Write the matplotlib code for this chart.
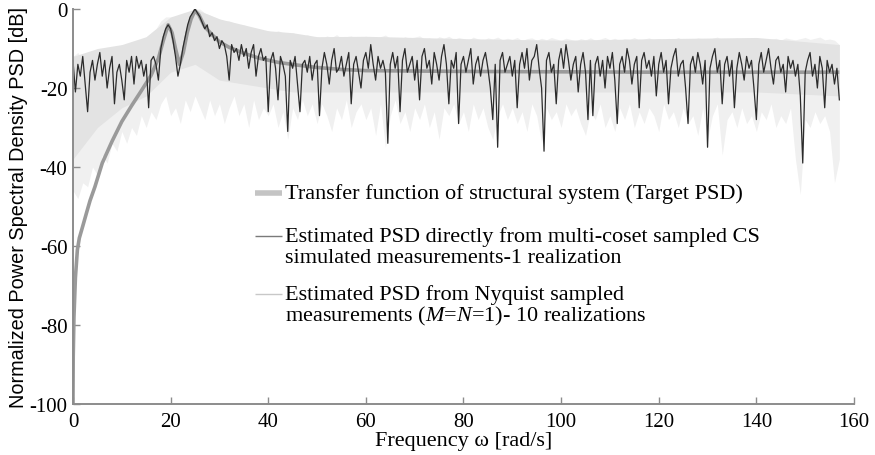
import numpy as np
import matplotlib
matplotlib.use("Agg")
import matplotlib.pyplot as plt

plt.rcParams['font.family'] = ['Liberation Serif', 'DejaVu Serif']
plt.rcParams['axes.unicode_minus'] = False
plt.rcParams['mathtext.fontset'] = 'custom'
plt.rcParams['mathtext.rm'] = 'Liberation Serif'
plt.rcParams['mathtext.it'] = 'Liberation Serif:italic'

# target PSD (transfer function of the structure)
target_freq = [0, 0.05, 0.2, 0.5, 0.9, 1.3, 2.0, 2.8, 3.5, 4.5, 6, 8, 10, 12, 14, 16,
               17.5, 18.5, 19.5, 20.3, 21, 21.8, 22.6, 23.4, 24.2, 25, 25.8, 27,
               28.5, 30, 32, 35, 38, 42, 46, 50, 55, 60, 80, 100, 120, 140, 157]
target_db = [-100, -88, -78, -68, -61, -58, -55, -51.5, -48.5, -45, -39, -33.5, -28.5,
             -24.5, -20.7, -16.8, -12.5, -8, -4, -6, -10, -14, -11, -6, -2.5,
             -0.4, -1.5, -4.5, -6.5, -8.3, -9.7, -11.2, -12.4, -13.5, -14.2,
             -14.8, -15.3, -15.6, -15.8, -15.9, -16, -16, -16]

# CS estimate, one realization (0 .. 157 rad/s, every 0.5 rad/s)
cs_db = [
    -13, -21, -14, -17, -12, -19, -26, -16, -13, -18,
    -14, -11, -17, -13, -20, -15, -12, -24, -16, -14,
    -18, -23, -13, -16, -12, -19, -12, -15, -13, -17,
    -14, -25, -13, -12, -14, -18, -10, -7, -5, -4,
    -5, -8, -12, -17, -14, -10, -7, -4, -2, -1,
    0, -1, -2, -3.5, -5, -4, -7, -6, -8, -7,
    -10, -8, -9, -12, -18, -9, -11, -10, -13, -9,
    -12, -10, -15, -11, -9, -17, -12, -10, -13, -12,
    -26, -13, -11, -15, -23, -12, -14, -17, -31, -13,
    -15, -12, -19, -26, -14, -13, -16, -12, -18, -14,
    -13, -27, -15, -11, -14, -19, -13, -10, -16, -15,
    -12, -17, -14, -11, -24, -14, -12, -16, -20, -13,
    -11, -15, -9, -14, -18, -12, -15, -13, -16, -34,
    -14, -11, -15, -12, -26, -13, -10, -16, -14, -12,
    -18, -13, -23, -12, -10, -15, -13, -19, -11, -14,
    -18, -12, -9, -14, -24, -13, -15, -11, -29, -14,
    -12, -16, -13, -10, -19, -14, -12, -17, -13, -11,
    -15, -20, -28, -14, -35, -13, -11, -16, -14, -12,
    -17, -13, -25, -14, -11, -15, -10, -18, -13, -12,
    -9, -15, -20, -36, -13, -11, -16, -14, -24, -13,
    -10, -15, -9, -13, -18, -14, -12, -21, -14, -11,
    -16, -28, -13, -27, -14, -12, -17, -13, -20, -12,
    -15, -11, -18, -29, -14, -12, -16, -10, -13, -19,
    -14, -12, -25, -13, -11, -15, -13, -17, -12, -22,
    -14, -11, -16, -13, -24, -15, -12, -10, -17, -14,
    -13, -20, -29, -14, -12, -16, -11, -14, -19, -13,
    -35, -15, -12, -10, -16, -13, -24, -14, -12, -17,
    -13, -25, -15, -11, -14, -18, -12, -15, -13, -20,
    -28, -14, -11, -16, -13, -10, -15, -19, -13, -12,
    -16, -14, -21, -12, -15, -13, -17, -14, -22, -39,
    -16, -13, -11, -17, -14, -20, -12, -15, -25, -13,
    -16, -14, -19, -15, -23,
]
cs_freq = np.linspace(0, 157, len(cs_db))

# Nyquist estimates, 10 realizations: envelope (0 .. 157 rad/s, every 1 rad/s)
nyq_upper = [
    -12, -11, -13, -11, -12, -10, -11, -10, -11, -10,
    -9, -10, -9, -8, -9, -7, -6, -5, -3, -2,
    -2, -4, -5, -3, -1, 0, 0, -1, -1.5, -2,
    -2.5, -3, -3, -3.5, -4, -4, -4.5, -5, -5, -5.5,
    -5.5, -6, -5.5, -6, -6.5, -6, -6.5, -7, -6.5, -7,
    -7, -7.5, -6.8, -7.2, -6.5, -7.4, -7, -6.8, -7.6, -7.1,
    -6.9, -7.3, -7.8, -7, -6.6, -7.4, -7.2, -7.8, -7, -7.5,
    -7.1, -6.8, -7.6, -7.3, -7.9, -7, -7.4, -6.9, -7.7, -7.2,
    -7.5, -7.9, -7.1, -7.6, -8, -7.3, -7.6, -7.1, -7.8, -7.4,
    -7.7, -7.2, -8, -7.5, -7.3, -7.9, -7.4, -7.8, -7.2, -7.6,
    -7.9, -7.4, -7.7, -8.1, -7.5, -7.8, -7.3, -7.9, -7.6, -7.2,
    -7.8, -7.4, -8, -7.5, -7.7, -7.2, -7.9, -7.6, -7.3, -7.8,
    -7.5, -8, -7.4, -7.7, -7.2, -7.9, -7.5, -7.8, -7.3, -7.6,
    -7.9, -7.4, -7.1, -7.8, -7.5, -7.7, -7.3, -7.9, -7.4, -7.6,
    -7.2, -7.8, -7.5, -7.7, -7.4, -7.9, -7.3, -7.6, -7.8, -7.5,
    -7.2, -7.7, -7.4, -7.1, -7.8, -7.6, -7.9, -9,
]
nyq_lower = [
    -46, -48, -44, -45, -40, -42, -37, -39, -34, -36,
    -31, -34, -30, -32, -27, -30, -26, -28, -24, -22,
    -27, -25, -29, -23, -26, -22, -25, -28, -23, -27,
    -24, -29, -25, -22, -27, -24, -30, -23, -28, -25,
    -27, -24, -30, -26, -33, -25, -28, -23, -27, -24,
    -29, -24, -27, -31, -25, -28, -23, -30, -26, -24,
    -28, -25, -32, -24, -35, -27, -23, -29, -26, -31,
    -25, -28, -24, -30, -26, -33, -25, -27, -24, -29,
    -26, -31, -24, -28, -25, -30, -33, -27, -24, -28,
    -25, -29, -26, -31, -24, -27, -34, -25, -28, -26,
    -30, -24, -27, -25, -29, -32, -26, -28, -24, -30,
    -27, -31, -25, -28, -24, -30, -26, -29, -25, -27,
    -31, -24, -28, -26, -30, -25, -29, -27, -32, -25,
    -33, -27, -24, -37, -28, -26, -30, -25, -29, -27,
    -31, -26, -28, -24, -30, -27, -29, -25, -38, -47,
    -28, -30, -26, -29, -27, -31, -44, -38,
]
nyq_freq = np.linspace(0, 157, len(nyq_upper))

# bottom of the dense part of the Nyquist band
core_freq = [0, 5, 10, 15, 20, 25, 30, 35, 40, 45, 50, 60, 80, 100, 120, 140, 157]
core_lower = [-38, -30, -25, -22, -16, -14, -18, -19, -20, -21, -21, -21, -21,
              -21, -21, -21, -22]
core_upper = np.interp(core_freq, nyq_freq, nyq_upper)

labels = ['Transfer function of structural system (Target PSD)',
          'Estimated PSD directly from multi-coset sampled CS\n'
          'simulated measurements-1 realization',
          'Estimated PSD from Nyquist sampled\n'
          'measurements ($\\mathit{M}$=$\\mathit{N}$=1)- 10 realizations']
legend_styles = [dict(color='#c4c4c4', lw=4),
                 dict(color='#7a7a7a', lw=1),
                 dict(color='#c8c8c8', lw=1)]

fig = plt.figure(figsize=(8.75, 4.56), dpi=100)
ax = fig.add_axes([0.0834, 0.112, 0.8926, 0.866])

ax.fill_between(nyq_freq, nyq_lower, nyq_upper, color='#f0f0f0', lw=0)
ax.fill_between(core_freq, core_lower, core_upper, color='#e3e3e3', lw=0)
ax.plot(target_freq, target_db, color='#9a9a9a', lw=2.6, solid_capstyle='butt')
ax.plot(cs_freq, cs_db, color='#2b2b2b', lw=0.9)

ax.set_xlim(0, 160)
ax.set_ylim(-100, 0)
ax.set_xticks(np.arange(0, 161, 20))
ax.set_yticks(np.arange(-100, 1, 20))
for s in ['top', 'right']:
    ax.spines[s].set_visible(False)
for s in ['left', 'bottom']:
    ax.spines[s].set_color('#8c8c8c')
    ax.spines[s].set_linewidth(1.4)
ax.tick_params(direction='in', length=5, width=1, color='#8c8c8c',
               labelsize=15, pad=4)
ax.tick_params(axis='x', pad=6)
ax.set_xlabel('Frequency ω [rad/s]', fontsize=16, labelpad=0)
ax.set_ylabel('Normalized Power Spectral Density PSD [dB]', fontsize=14.3,
              family=['Liberation Sans', 'DejaVu Sans'], labelpad=1)

# legend drawn by hand so the handle sits on the first line of each entry
row_y = [0.534, 0.425, 0.278]
line_step = 0.055
for y0, lab, st in zip(row_y, labels, legend_styles):
    ax.plot([0.233, 0.2676], [y0, y0], transform=ax.transAxes,
            solid_capstyle='butt', clip_on=False, **st)
    for i, part in enumerate(lab.split('\n')):
        ax.text(0.2714, y0 - i * line_step, part, transform=ax.transAxes,
                fontsize=16, va='center', ha='left')

fig.savefig('out.png', dpi=100)
